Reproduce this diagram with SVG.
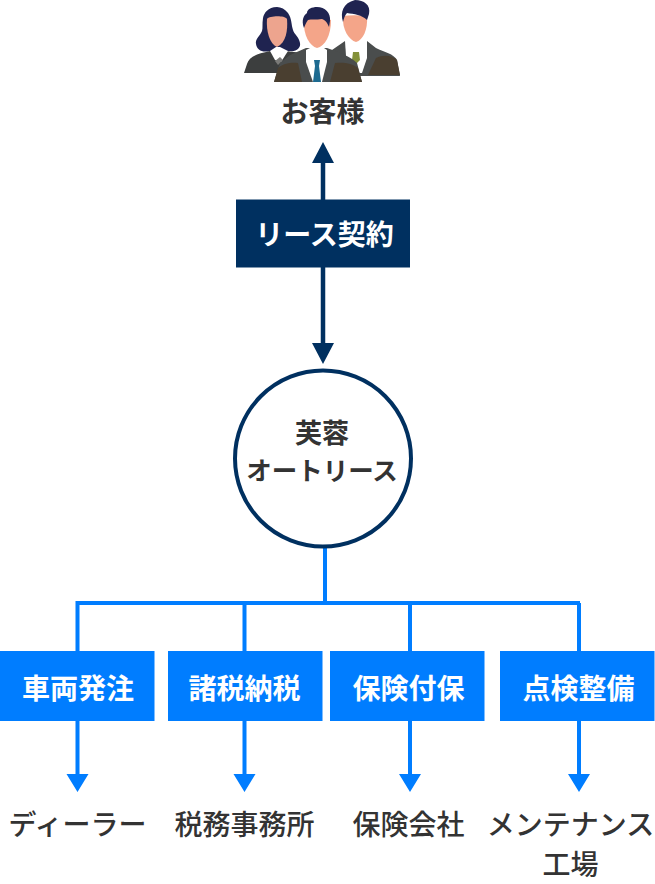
<svg xmlns="http://www.w3.org/2000/svg" width="655" height="884" viewBox="0 0 655 884">
<style>
text{font-family:"Noto Sans CJK JP","Noto Sans",sans-serif;text-anchor:middle;font-size:28px}
.h{fill:#fff;font-weight:700}
.d{fill:#333;font-weight:700}
.l{fill:#333;font-weight:500}
.navy{fill:#003060}
.blue{fill:#007dff}
.nl{stroke:#003060;stroke-width:4.500;fill:none}
.bl{stroke:#007dff;stroke-width:4;fill:none}
</style>
<rect width="655" height="884" fill="#fff"/>
<g id="connectors">
<path class="nl" d="M323 160V200M323 267V346"/>
<path class="navy" d="M323 142L334 163H312ZM323 364L334 343H312Z"/>
<path class="bl" d="M325 546V603M77.500 651V603H580M244.500 603V651M410 603V651M579 603V651"/>
<path class="bl" d="M77.500 721V776M244.500 721V776M410 721V776M579 721V776"/>
<path class="blue" d="M77.500 792L66.500 774H88.500ZM244.500 792L233.500 774H255.500ZM410 792L399 774H421ZM579 792L568 774H590Z"/>
</g>
<g id="customers">
<path fill="#1f2350" d="M277 7C268 7 264 13 263 18C262 24 263 28 262 31C260 36 255 39 256 44C257 50 262 53 270 51H290C296 52 301 48 300 43C299 37 294 34 293 30C291 24 292 19 288 13C285 9 281 7 277 7Z"/>
<path fill="#3c3e3e" d="M244 73L247 64C249 57 256 54 270 51H286L302 53L310 73Z"/>
<path fill="#fff" d="M270 51L275 60L281 62L288 51L280 47H276Z"/>
<path fill="#7a7a78" d="M275 61L280 57L283 60L278 65Z"/>
<path fill="#eda48e" d="M267 19C269 16 284 15 287 19C288 30 286 43 277 47C270 44 266 32 267 19Z"/>
<path fill="#4a4d4d" d="M345 41L332 50L318 76H400L397 60C394 54 384 52 376 48L367 41Z"/>
<path fill="#4a3f30" d="M368 75L376 58C384 54 393 56 397 60L400 75Z"/>
<path fill="#fff" d="M345 41H367V58L362 73H354L346 56Z"/>
<path fill="#84913a" d="M353 52H359L360 60L356 64L352 60Z"/>
<path fill="#f4a589" d="M343 16C350 15 358 15 367 16C368 30 363 40 356 42C349 40 342 30 343 16Z"/>
<path fill="#1f2350" d="M343 22C340 12 343 3 355 0C364 0 371 5 369 14L367 20C362 15 354 14 347 13C345 15 344 18 343 22Z"/>
<path fill="#4a4d4d" d="M306 48L290 55L280 63L274 82H362L357 63C350 56 338 52 327 48Z"/>
<path fill="#4a3f30" d="M274 82L278 68C283 63 292 62 298 63L302 82ZM362 82L358 68C352 63 344 62 335 63L330 82Z"/>
<path fill="#fff" d="M306 50L310 48H324L327 50V62L322 82H313L306 62Z"/>
<path fill="#1d6a90" d="M314 60H320L319 66L321 82H313L315 66Z"/>
<path fill="#f4a589" d="M304 20C312 16 322 16 331 20C331 36 325 46 317 48C310 46 303 36 304 20Z"/>
<path fill="#1f2350" d="M304 28C301 20 304 15 307 13C307 9 312 7 317 7C325 7 331 13 330 21L329 27C327 22 325 20 322 19C316 20 311 19 308 20C306 23 305 25 304 28Z"/>
<text class="d" x="322.500" y="122">お客様</text>
</g>
<g id="lease"><rect class="navy" x="236" y="199.500" width="174" height="68"/><text class="h" x="324.500" y="245">リース契約</text></g>
<g id="fuyo">
<circle cx="323" cy="458.500" r="88" fill="#fff" stroke="#003060" stroke-width="4"/>
<text class="d" style="font-size:27px" x="322" y="443">芙蓉</text>
<text class="d" style="font-size:25.500px" x="322" y="480">オートリース</text>
</g>
<g id="n1"><rect class="blue" x="0" y="651" width="154.500" height="70"/><text class="h" x="78" y="699">車両発注</text></g>
<g id="n2"><rect class="blue" x="168" y="651" width="154.500" height="70"/><text class="h" x="244.500" y="699">諸税納税</text></g>
<g id="n3"><rect class="blue" x="330" y="651" width="154.500" height="70"/><text class="h" x="408.500" y="699">保険付保</text></g>
<g id="n4"><rect class="blue" x="500" y="651" width="154.500" height="70"/><text class="h" x="578.500" y="699">点検整備</text></g>
<g id="t1"><text class="l" x="77.500" y="835">ディーラー</text></g>
<g id="t2"><text class="l" x="244.500" y="835">税務事務所</text></g>
<g id="t3"><text class="l" x="408.500" y="835">保険会社</text></g>
<g id="t4"><text class="l" x="570.500" y="835">メンテナンス</text><text class="l" x="570.500" y="875">工場</text></g>
</svg>
